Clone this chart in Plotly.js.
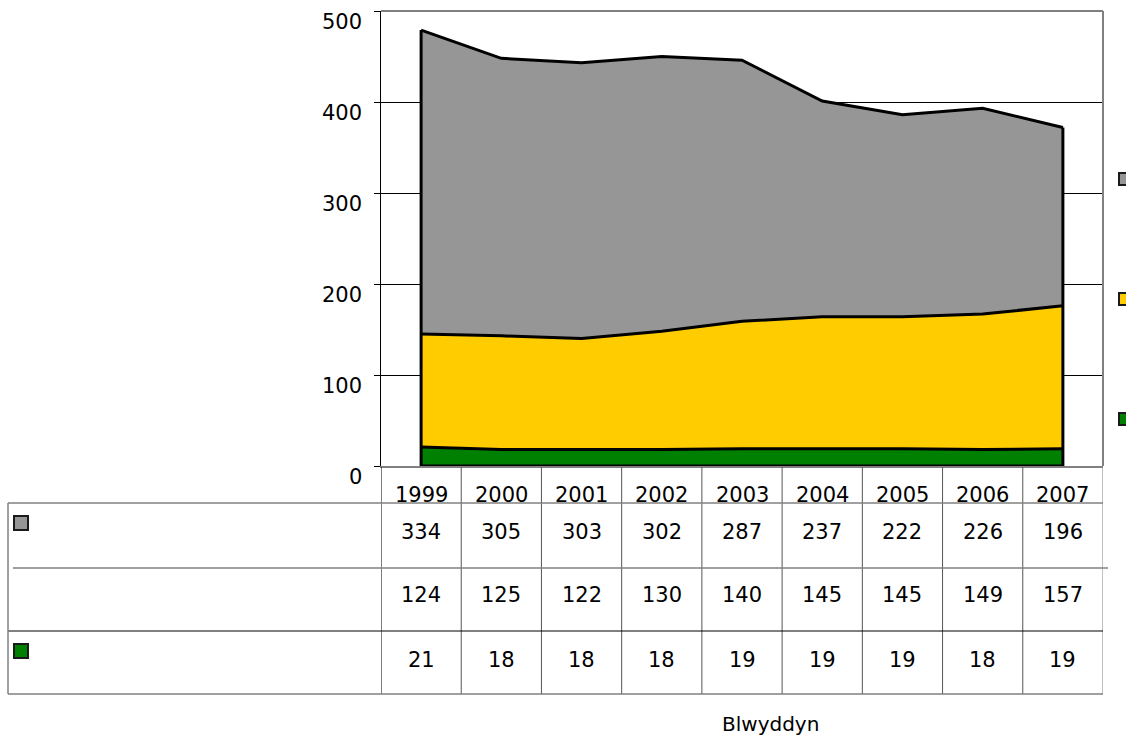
<!DOCTYPE html>
<html>
<head>
<meta charset="utf-8">
<script src="https://cdn.plot.ly/plotly-3.0.1.min.js"></script>
<style>html,body{margin:0;padding:0;background:#fff;}#chart{width:1126px;height:737px;}</style>
</head>
<body>
<div id="chart"></div>
<script>
const years = ['1999','2000','2001','2002','2003','2004','2005','2006','2007'];
const greySeries = [334,305,303,302,287,237,222,226,196];
const yellowSeries = [124,125,122,130,140,145,145,149,157];
const greenSeries = [21,18,18,18,19,19,19,18,19];
const yTicks = [0,100,200,300,400,500];

const FONT = 'DejaVu Sans, Verdana, sans-serif';
const FS = 21;
const W = 1126, H = 737;
const L = 381, R = 1103, T = 11, B = 466;
const px = v => (v - L) / (R - L);
const py = v => (B - v) / (B - T);

const totals = years.map((_, i) => greySeries[i] + yellowSeries[i] + greenSeries[i]);
const lineStyle = {color: '#000', width: 3};

const traces = [
  {x: years, y: greenSeries, type: 'scatter', mode: 'lines', stackgroup: 'one', fillcolor: '#008000', line: lineStyle, hoverinfo: 'skip'},
  {x: years, y: yellowSeries, type: 'scatter', mode: 'lines', stackgroup: 'one', fillcolor: '#FFCC00', line: lineStyle, hoverinfo: 'skip'},
  {x: years, y: greySeries, type: 'scatter', mode: 'lines', stackgroup: 'one', fillcolor: '#969696', line: lineStyle, hoverinfo: 'skip'},
  {x: [years[0], years[0]], y: [0, totals[0]], type: 'scatter', mode: 'lines', line: lineStyle, hoverinfo: 'skip'},
  {x: [years[years.length-1], years[years.length-1]], y: [0, totals[totals.length-1]], type: 'scatter', mode: 'lines', line: lineStyle, hoverinfo: 'skip'},
  {x: [years[0], years[years.length-1]], y: [0, 0], type: 'scatter', mode: 'lines', line: lineStyle, hoverinfo: 'skip', cliponaxis: false}
];

const shapes = [];
const annotations = [];
// plot border (top/right)
shapes.push({type:'line', xref:'paper', yref:'paper', x0:0, x1:1, y0:1, y1:1, line:{color:'#808080', width:2}});
shapes.push({type:'line', xref:'paper', yref:'paper', x0:1, x1:1, y0:0, y1:1, line:{color:'#808080', width:2}});
// table vertical lines
for (let i = 0; i <= years.length; i++) {
  const xv = i - 0.5;
  let col = '#000';
  if (i === years.length) col = '#808080';
  else if (i > 0) col = '#555';
  shapes.push({type:'line', xref:'x', yref:'paper', x0:xv, x1:xv, y0:py(467), y1:py(694), line:{color:col, width:1}});
}
// table horizontal lines
shapes.push({type:'line', xref:'paper', yref:'paper', x0:px(8), x1:px(1103), y0:py(503), y1:py(503), line:{color:'#808080', width:1.5}});
shapes.push({type:'line', xref:'paper', yref:'paper', x0:px(13), x1:px(1108), y0:py(568), y1:py(568), line:{color:'#808080', width:1.5}});
shapes.push({type:'line', xref:'paper', yref:'paper', x0:px(8), x1:px(1103), y0:py(631), y1:py(631), line:{color:'#000', width:1}});
shapes.push({type:'line', xref:'paper', yref:'paper', x0:px(8), x1:px(1103), y0:py(694), y1:py(694), line:{color:'#808080', width:1.5}});
shapes.push({type:'line', xref:'paper', yref:'paper', x0:px(8), x1:px(8), y0:py(503), y1:py(694), line:{color:'#808080', width:1.5}});
// legend keys in table
function key(x0, y0, size, color) {
  shapes.push({type:'rect', xref:'paper', yref:'paper', x0:px(x0), x1:px(x0+size), y0:py(y0), y1:py(y0+size), fillcolor:color, line:{color:'#1a1a1a', width:2}});
}
key(14, 516, 14, '#969696');
key(14, 644, 14, '#008000');
// legend keys on right
key(1119, 173, 12, '#969696');
key(1119, 293, 12, '#FFCC00');
key(1119, 413, 12, '#008000');

// y tick labels (offset below their gridlines, as in the original)
yTicks.forEach(v => {
  annotations.push({xref:'paper', yref:'y', x:px(364), y:v, yshift:-11, text:String(v), showarrow:false, xanchor:'right', yanchor:'middle', font:{family:FONT, size:FS, color:'#000'}});
});

// year labels & values
const rows = [{data: greySeries, y: 531.5}, {data: yellowSeries, y: 595}, {data: greenSeries, y: 660}];
years.forEach((yr, i) => {
  annotations.push({xref:'x', yref:'paper', x:i, y:py(495), text:yr, showarrow:false, xanchor:'center', yanchor:'middle', font:{family:FONT, size:FS, color:'#000'}});
  rows.forEach(r => {
    annotations.push({xref:'x', yref:'paper', x:i, y:py(r.y), text:String(r.data[i]), showarrow:false, xanchor:'center', yanchor:'middle', font:{family:FONT, size:FS, color:'#000'}});
  });
});
annotations.push({xref:'paper', yref:'paper', x:px(770), y:py(724), text:'Blwyddyn', showarrow:false, xanchor:'center', yanchor:'middle', font:{family:FONT, size:20, color:'#000'}});

const layout = {
  width: W, height: H,
  margin: {l: L, r: W - R, t: T, b: H - B, pad: 0},
  paper_bgcolor: '#fff', plot_bgcolor: '#fff',
  showlegend: false,
  font: {family: FONT, size: FS, color: '#000'},
  xaxis: {type:'category', range:[-0.5, years.length - 0.5], showticklabels:false, ticks:'', showgrid:false, zeroline:false, showline:true, linecolor:'#808080', linewidth:2, fixedrange:true},
  yaxis: {range:[0,500], tickvals:yTicks, showticklabels:false, ticks:'outside', ticklen:6, tickcolor:'#000', tickwidth:1, showline:true, linecolor:'#000', linewidth:1, showgrid:true, gridcolor:'#000', gridwidth:1, zeroline:false, fixedrange:true},
  shapes: shapes,
  annotations: annotations
};

Plotly.newPlot('chart', traces, layout, {displayModeBar:false, staticPlot:true});
</script>
</body>
</html>
